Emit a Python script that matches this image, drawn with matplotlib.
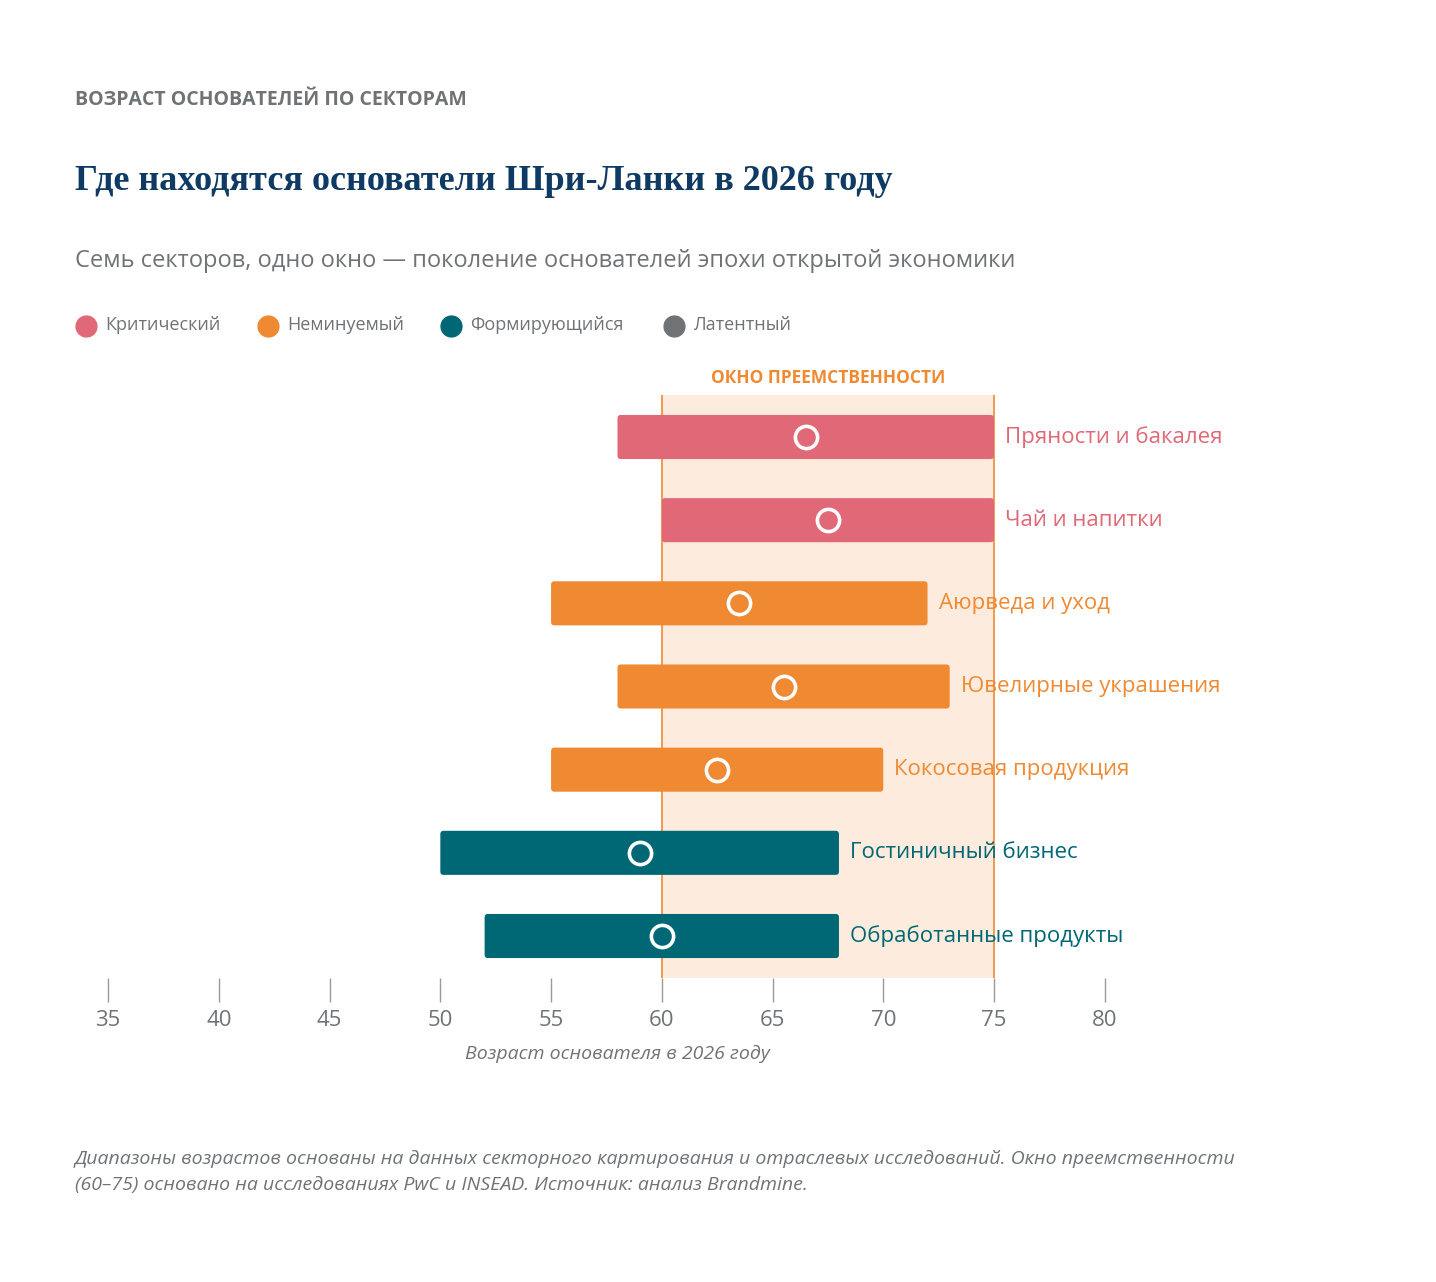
import matplotlib
matplotlib.use('Agg')
import matplotlib.pyplot as plt
from matplotlib.patches import FancyBboxPatch, Rectangle
from matplotlib.lines import Line2D

SECTORS = ['Пряности и бакалея', 'Чай и напитки', 'Аюрведа и уход',
           'Ювелирные украшения', 'Кокосовая продукция', 'Гостиничный бизнес',
           'Обработанные продукты']
LOW = [58, 60, 55, 58, 55, 50, 52]
HIGH = [75, 75, 72, 73, 70, 68, 68]
MEDIAN = [66.5, 67.5, 63.5, 65.5, 62.5, 59, 60]
STATUS = ['crit', 'crit', 'imm', 'imm', 'imm', 'form', 'form']
WINDOW = (60, 75)
XTICKS = [35, 40, 45, 50, 55, 60, 65, 70, 75, 80]

COLORS = {'crit': '#E06877', 'imm': '#EF8A33', 'form': '#006775', 'lat': '#707376'}
LEGEND = [('crit', 'Критический'), ('imm', 'Неминуемый'),
          ('form', 'Формирующийся'), ('lat', 'Латентный')]

plt.rcParams['font.family'] = ['Open Sans', 'DejaVu Sans']
W, H = 1436, 1282
fig = plt.figure(figsize=(W / 100, H / 100), dpi=100)

# axes placed so that 35 -> 108 px, 80 -> 1105 px
x0, x1 = 86, 1149
y_top, y_bot = 395, 978
ax = fig.add_axes([x0 / W, 1 - y_bot / H, (x1 - x0) / W, (y_bot - y_top) / H])
ax.set_xlim(34, 82)
ax.set_ylim(6.505, -0.505)

ax.add_patch(Rectangle((WINDOW[0], -0.505), WINDOW[1] - WINDOW[0], 7.01,
                       facecolor='#FDEBDD', edgecolor='none', zorder=0))
for v in WINDOW:
    ax.axvline(v, color='#EF8A33', lw=1.2, zorder=1)
ax.text(sum(WINDOW) / 2, -0.6, 'ОКНО ПРЕЕМСТВЕННОСТИ', ha='center', va='bottom',
        color='#EF8A33', fontsize=12.5, fontweight='bold', clip_on=False)

aspect = (1 / 83.2) / (1 / 22.16)
bh = 0.53
for i, name in enumerate(SECTORS):
    c = COLORS[STATUS[i]]
    ax.add_patch(FancyBboxPatch((LOW[i], i - bh / 2), HIGH[i] - LOW[i], bh,
                                boxstyle='round,pad=0,rounding_size=0.15',
                                mutation_aspect=aspect, facecolor=c,
                                edgecolor='none', zorder=2))
    ax.plot(MEDIAN[i], i, 'o', ms=16, mfc=c, mec='white', mew=2.6, zorder=3)
    ax.text(HIGH[i] + 0.5, i, name, color=c, fontsize=16, va='center', ha='left')

for s in ['left', 'right', 'top']:
    ax.spines[s].set_visible(False)
ax.spines['bottom'].set_visible(False)
ax.set_yticks([])
ax.set_xticks(XTICKS)
ax.set_xticklabels([str(t) for t in XTICKS], fontsize=16, color='#707376')
ax.tick_params(axis='x', length=17, width=1, color='#9a9a9a', pad=6)
ax.set_xlabel('Возраст основателя в 2026 году', fontsize=14, style='italic',
              color='#707376', labelpad=10)

fig.text(75 / W, 1 - 100 / H, 'ВОЗРАСТ ОСНОВАТЕЛЕЙ ПО СЕКТОРАМ', fontsize=14,
         fontweight='bold', color='#707376', va='center')
fig.text(75 / W, 1 - 182 / H, 'Где находятся основатели Шри-Ланки в 2026 году',
         fontsize=26, fontweight='bold', color='#0F3A63', va='center',
         family=['Liberation Serif', 'DejaVu Serif'])
fig.text(75 / W, 1 - 261 / H,
         'Семь секторов, одно окно — поколение основателей эпохи открытой экономики',
         fontsize=17, color='#707376', va='center')

lx = [86, 268, 451, 674]
for (key, label), px in zip(LEGEND, lx):
    fig.add_artist(Line2D([px / W], [1 - 326 / H], marker='o', ms=15,
                          color=COLORS[key], transform=fig.transFigure))
    fig.text((px + 19) / W, 1 - 325 / H, label, fontsize=13, color='#707376',
             va='center')

fig.text(75 / W, 1 - 1150 / H,
         'Диапазоны возрастов основаны на данных секторного картирования и отраслевых '
         'исследований. Окно преемственности\n(60–75) основано на исследованиях PwC и '
         'INSEAD. Источник: анализ Brandmine.',
         fontsize=14, style='italic', color='#707376', va='top', linespacing=1.6)

fig.savefig('out.png', dpi=100, facecolor='white')
